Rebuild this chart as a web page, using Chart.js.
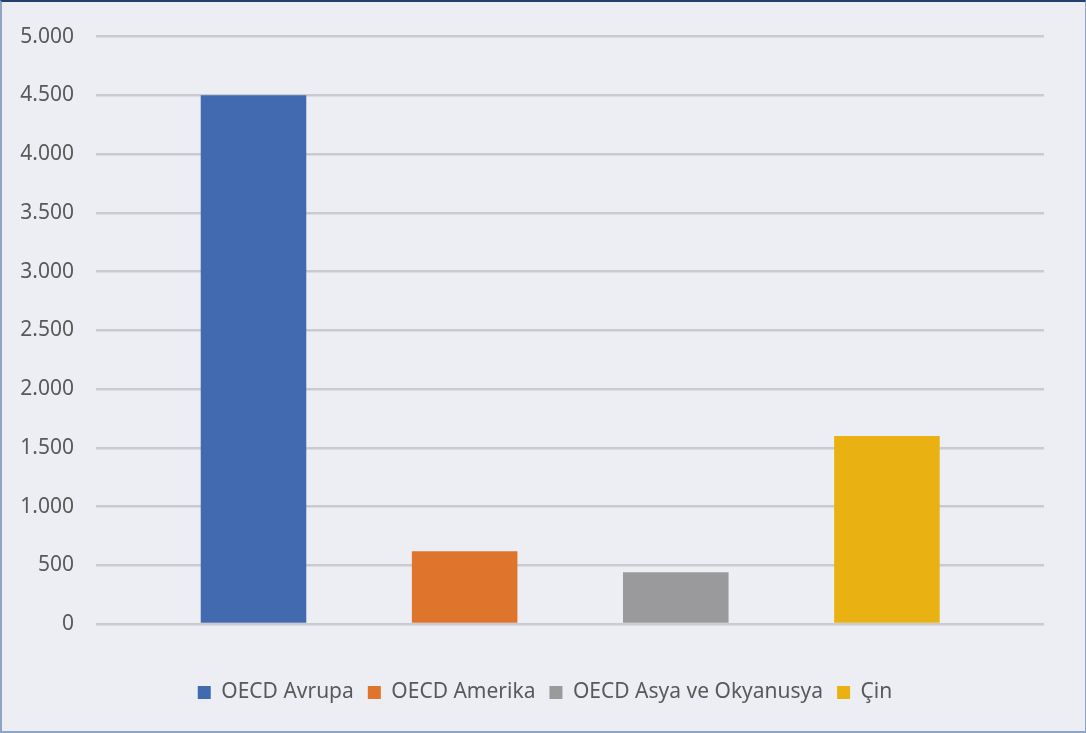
<!DOCTYPE html>
<html>
<head>
<meta charset="utf-8">
<script src="https://cdn.jsdelivr.net/npm/chart.js@4/dist/chart.umd.min.js"></script>
<style>
  html, body { margin: 0; padding: 0; background: #fff; }
  #wrap {
    width: 1086px; height: 733px; box-sizing: border-box;
    background: #EDEEF3;
    border-top: 2px solid #22406E;
    border-left: 2px solid #8FA5C6;
    border-bottom: 2px solid #8FA5C6;
    border-right: 1px solid #8FA5C6;
  }
  canvas { display: block; }
</style>
</head>
<body>
<div id="wrap"><canvas id="chart" width="1083" height="729"></canvas></div>
<script>
// --- 資料 ---
const categories = ['OECD Avrupa', 'OECD Amerika', 'OECD Asya ve Okyanusya', 'Çin'];
const values = [4500, 620, 440, 1600];
const barColors = ['#416AB0', '#DF752C', '#9A9A9C', '#E9B212'];
const yTicks = [0, 500, 1000, 1500, 2000, 2500, 3000, 3500, 4000, 4500, 5000];

const TEXT_COLOR = '#595959';
const FONT_FAMILY = '"Noto Sans", "Open Sans", sans-serif';

// 圖例整體往右移，讓它置中於整張圖（原圖的圖例不受右側留白影響）
const legendShift = {
    id: 'legendShift',
    afterLayout(chart) {
        chart.legend.left += 22;
        chart.legend.right += 22;
    }
};

const ctx = document.getElementById('chart').getContext('2d');
new Chart(ctx, {
    type: 'bar',
    data: {
        datasets: [{
            data: values.map((v, i) => ({ x: i, y: v })),
            backgroundColor: barColors,
            barPercentage: 0.5,
            categoryPercentage: 1
        }]
    },
    options: {
        responsive: false,
        animation: false,
        layout: { padding: { top: 25, right: 41, bottom: 18, left: 0 } },
        scales: {
            x: {
                type: 'linear',
                min: -0.746,
                max: 3.744,
                offset: false,
                afterBuildTicks: axis => { axis.ticks = categories.map((c, i) => ({ value: i })); },
                afterFit: axis => { axis.height = 44; },
                grid: { display: false },
                border: { display: false },
                ticks: { display: false }
            },
            y: {
                min: 0,
                max: 5000,
                afterBuildTicks: axis => { axis.ticks = yTicks.map(v => ({ value: v })); },
                afterFit: axis => { axis.width = 94; },
                border: { display: false },
                grid: { color: '#CBCBCF', lineWidth: 2.5, drawTicks: false },
                ticks: {
                    color: TEXT_COLOR,
                    font: { family: FONT_FAMILY, size: 21 },
                    padding: 22,
                    callback: v => v.toLocaleString('de-DE')
                }
            }
        },
        plugins: {
            tooltip: { enabled: false },
            legend: {
                position: 'bottom',
                labels: {
                    color: TEXT_COLOR,
                    font: { family: FONT_FAMILY, size: 21 },
                    boxWidth: 13,
                    boxHeight: 13,
                    padding: 14,
                    generateLabels: () => categories.map((c, i) => ({
                        text: c,
                        fillStyle: barColors[i],
                        strokeStyle: barColors[i],
                        lineWidth: 0,
                        fontColor: TEXT_COLOR
                    }))
                }
            }
        }
    },
    plugins: [legendShift]
});
</script>
</body>
</html>
